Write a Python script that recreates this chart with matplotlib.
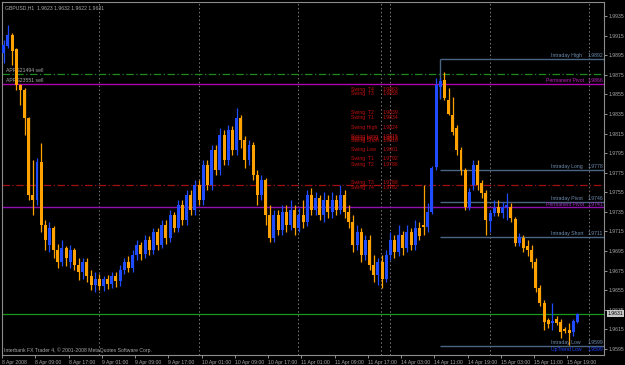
import matplotlib
matplotlib.use('Agg')
import matplotlib.pyplot as plt

plt.rcParams['font.family'] = ['Liberation Sans', 'DejaVu Sans']

# GBPUSD H1 candles, first bar = 8 Apr 2008 01:00
opens = [1.9897, 1.9904, 1.9916, 1.9901, 1.9865, 1.9859, 1.9831, 1.9752, 1.9747, 1.9786,
         1.9722, 1.9701, 1.9719, 1.9696, 1.9684, 1.9698, 1.9684, 1.9696, 1.9681, 1.9674,
         1.9684, 1.9670, 1.9660, 1.9667, 1.9659, 1.9666, 1.9661, 1.9670, 1.9664, 1.9676,
         1.9684, 1.9678, 1.9691, 1.9701, 1.9692, 1.9706, 1.9696, 1.9714, 1.9701, 1.9722,
         1.9708, 1.9732, 1.9719, 1.9742, 1.9727, 1.9752, 1.9737, 1.9762, 1.9747, 1.9783,
         1.9762, 1.9798, 1.9778, 1.9814, 1.9788, 1.9819, 1.9798, 1.9831, 1.9808, 1.9788,
         1.9803, 1.9773, 1.9752, 1.9768, 1.9732, 1.9708, 1.9732, 1.9717, 1.9735, 1.9722,
         1.9737, 1.9719, 1.9732, 1.9725, 1.9752, 1.9737, 1.9749, 1.9732, 1.9747, 1.9735,
         1.9747, 1.9737, 1.9752, 1.9735, 1.9725, 1.9701, 1.9714, 1.9691, 1.9706, 1.9681,
         1.9671, 1.9684, 1.9667, 1.9691, 1.9706, 1.9694, 1.9711, 1.9698, 1.9714, 1.9701,
         1.9719, 1.9722, 1.9720, 1.9735, 1.9781, 1.9863, 1.9870, 1.9849, 1.9834, 1.9821,
         1.9798, 1.9778, 1.9740, 1.9762, 1.9783, 1.9765, 1.9754, 1.9726, 1.9734, 1.9740,
         1.9734, 1.9740, 1.9740, 1.9728, 1.9703, 1.9708, 1.9700, 1.9696, 1.9684, 1.9657,
         1.9642, 1.9625, 1.9622, 1.9626, 1.9623, 1.9615, 1.9614, 1.9612, 1.9623]
highs = [1.9910, 1.9926, 1.9918, 1.9902, 1.9866, 1.9861, 1.9832, 1.9788, 1.9790, 1.9805,
         1.9727, 1.9725, 1.9721, 1.9702, 1.9706, 1.9700, 1.9701, 1.9698, 1.9688, 1.9688,
         1.9688, 1.9676, 1.9674, 1.9672, 1.9670, 1.9671, 1.9674, 1.9674, 1.9681, 1.9688,
         1.9690, 1.9696, 1.9706, 1.9704, 1.9711, 1.9710, 1.9719, 1.9719, 1.9727, 1.9727,
         1.9737, 1.9735, 1.9747, 1.9747, 1.9757, 1.9757, 1.9768, 1.9768, 1.9788, 1.9788,
         1.9803, 1.9803, 1.9821, 1.9819, 1.9824, 1.9823, 1.9841, 1.9834, 1.9813, 1.9808,
         1.9806, 1.9778, 1.9773, 1.9770, 1.9742, 1.9737, 1.9737, 1.9742, 1.9742, 1.9747,
         1.9742, 1.9739, 1.9747, 1.9757, 1.9759, 1.9755, 1.9752, 1.9755, 1.9752, 1.9755,
         1.9752, 1.9762, 1.9757, 1.9742, 1.9732, 1.9722, 1.9719, 1.9711, 1.9711, 1.9691,
         1.9688, 1.9691, 1.9696, 1.9714, 1.9711, 1.9722, 1.9716, 1.9722, 1.9719, 1.9727,
         1.9725, 1.9762, 1.9744, 1.9782, 1.9872, 1.9872, 1.9878, 1.9861, 1.9852, 1.9824,
         1.9801, 1.9780, 1.9759, 1.9788, 1.9788, 1.9768, 1.9757, 1.9737, 1.9747, 1.9747,
         1.9745, 1.9754, 1.9744, 1.9730, 1.9713, 1.9711, 1.9706, 1.9701, 1.9688, 1.9660,
         1.9645, 1.9627, 1.9642, 1.9629, 1.9626, 1.9617, 1.9622, 1.9626, 1.9632]
lows = [1.9887, 1.9902, 1.9885, 1.9859, 1.9844, 1.9814, 1.9747, 1.9732, 1.9742, 1.9714,
        1.9696, 1.9694, 1.9688, 1.9678, 1.9680, 1.9680, 1.9678, 1.9676, 1.9665, 1.9667,
        1.9663, 1.9655, 1.9653, 1.9655, 1.9654, 1.9656, 1.9657, 1.9658, 1.9659, 1.9672,
        1.9674, 1.9674, 1.9686, 1.9686, 1.9688, 1.9691, 1.9692, 1.9696, 1.9698, 1.9702,
        1.9704, 1.9714, 1.9714, 1.9722, 1.9722, 1.9732, 1.9732, 1.9742, 1.9742, 1.9757,
        1.9757, 1.9773, 1.9773, 1.9783, 1.9783, 1.9793, 1.9793, 1.9800, 1.9780, 1.9783,
        1.9768, 1.9742, 1.9747, 1.9722, 1.9704, 1.9704, 1.9711, 1.9711, 1.9714, 1.9717,
        1.9711, 1.9714, 1.9719, 1.9721, 1.9732, 1.9732, 1.9727, 1.9725, 1.9729, 1.9729,
        1.9732, 1.9733, 1.9729, 1.9719, 1.9694, 1.9696, 1.9684, 1.9686, 1.9676, 1.9663,
        1.9660, 1.9657, 1.9663, 1.9686, 1.9688, 1.9690, 1.9691, 1.9694, 1.9696, 1.9696,
        1.9706, 1.9711, 1.9714, 1.9733, 1.9778, 1.9851, 1.9849, 1.9834, 1.9814, 1.9793,
        1.9773, 1.9737, 1.9737, 1.9757, 1.9757, 1.9749, 1.9711, 1.9714, 1.9731, 1.9731,
        1.9729, 1.9727, 1.9725, 1.9700, 1.9700, 1.9694, 1.9690, 1.9678, 1.9653, 1.9639,
        1.9614, 1.9616, 1.9614, 1.9620, 1.9606, 1.9611, 1.9599, 1.9608, 1.9622]
closes = [1.9905, 1.9916, 1.9899, 1.9865, 1.9859, 1.9831, 1.9752, 1.9747, 1.9786, 1.9722,
          1.9706, 1.9719, 1.9696, 1.9684, 1.9698, 1.9688, 1.9696, 1.9681, 1.9674, 1.9684,
          1.9670, 1.9660, 1.9667, 1.9659, 1.9666, 1.9661, 1.9670, 1.9664, 1.9676, 1.9684,
          1.9678, 1.9691, 1.9701, 1.9692, 1.9706, 1.9696, 1.9714, 1.9701, 1.9722, 1.9708,
          1.9732, 1.9719, 1.9742, 1.9727, 1.9752, 1.9737, 1.9762, 1.9747, 1.9783, 1.9762,
          1.9798, 1.9778, 1.9814, 1.9788, 1.9819, 1.9798, 1.9831, 1.9808, 1.9788, 1.9803,
          1.9773, 1.9752, 1.9768, 1.9732, 1.9708, 1.9732, 1.9717, 1.9735, 1.9722, 1.9737,
          1.9719, 1.9732, 1.9725, 1.9752, 1.9737, 1.9749, 1.9732, 1.9747, 1.9735, 1.9747,
          1.9737, 1.9752, 1.9735, 1.9725, 1.9701, 1.9714, 1.9691, 1.9706, 1.9681, 1.9671,
          1.9684, 1.9667, 1.9691, 1.9706, 1.9694, 1.9711, 1.9698, 1.9714, 1.9701, 1.9719,
          1.9710, 1.9720, 1.9735, 1.9780, 1.9865, 1.9869, 1.9851, 1.9835, 1.9817, 1.9798,
          1.9778, 1.9740, 1.9755, 1.9783, 1.9762, 1.9754, 1.9727, 1.9734, 1.9739, 1.9734,
          1.9740, 1.9742, 1.9729, 1.9703, 1.9709, 1.9698, 1.9696, 1.9684, 1.9657, 1.9642,
          1.9623, 1.9621, 1.9624, 1.9622, 1.9612, 1.9613, 1.9611, 1.9624, 1.9631]

price_ticks = [1.9595, 1.9615, 1.9635, 1.9655, 1.9675, 1.9695, 1.9715, 1.9735, 1.9755,
               1.9775, 1.9795, 1.9815, 1.9835, 1.9855, 1.9875, 1.9895, 1.9915, 1.9935]
time_labels = ['8 Apr 2008', '8 Apr 09:00', '8 Apr 17:00', '9 Apr 01:00', '9 Apr 09:00',
               '9 Apr 17:00', '10 Apr 01:00', '10 Apr 09:00', '10 Apr 17:00', '11 Apr 01:00',
               '11 Apr 09:00', '11 Apr 17:00', '14 Apr 03:00', '14 Apr 11:00', '14 Apr 19:00',
               '15 Apr 03:00', '15 Apr 11:00', '15 Apr 19:00']
time_label_bars = [-0.42, 7.58, 15.58, 23.58, 31.58, 39.58, 47.58, 55.58, 63.58, 71.58,
                   79.58, 87.58, 95.58, 103.58, 111.58, 119.58, 127.58, 135.58]
day_separators = [22.9, 46.9, 70.9, 90.7, 92.9, 116.9, 140.9]

# intraday levels (right side)
intraday_names = ['Intraday High', 'Intraday Long', 'Intraday Pivot', 'Intraday Short', 'Intraday Low']
intraday_levels = [1.9891, 1.9778, 1.9745, 1.9709, 1.9598]
intraday_text = ['1.9892', '1.9778', '1.9746', '1.9711', '1.9599']

upper_pivot = 1.98655
lower_pivot = 1.9740
sell_level = 1.98755
red_level = 1.97625
bid = 1.9631

swing_names = ['Swing  T4', 'Swing  T3', 'Swing  T2', 'Swing  T1', 'Swing High', 'Swing Long',
               'Swing Pivot', 'Swing Short', 'Swing Low', 'Swing  T1', 'Swing  T2', 'Swing  T3',
               'Swing  T4']
swing_levels = [1.9863, 1.9858, 1.9839, 1.9834, 1.9824, 1.9815, 1.9813, 1.9810, 1.9801,
                1.9792, 1.9786, 1.9768, 1.9762]

bull = '#1f4cff'
bear = '#ffa200'
fg = '#a8a8a8'
steel = '#4a6682'
steel_txt = '#6f8db0'
fs = 3.7

fig = plt.figure(figsize=(6.25, 3.65), dpi=100, facecolor='black')
ax = fig.add_axes([2 / 625, 10 / 365, 602 / 625, 353 / 365])
ax.set_facecolor('black')
ax.set_xlim(0.07, 144.4)
ax.set_ylim(1.95889, 1.99493)

for x in day_separators:
    ax.axvline(x, color='#7a7a7a', lw=0.7, ls=(0, (1.5, 2.5)), zorder=1)

# levels
ax.axhline(sell_level, color='#1d8a1d', lw=0.9, ls=(0, (6, 2, 1, 2)), zorder=2)
ax.axhline(upper_pivot, color='#b000b0', lw=1.0, zorder=2)
ax.axhline(red_level, color='#a01010', lw=0.9, ls=(0, (6, 2, 1, 2)), zorder=2)
ax.axhline(lower_pivot, color='#9010b0', lw=1.0, zorder=2)
ax.axhline(bid, color='#1a9a1a', lw=0.9, zorder=2)
for lvl in intraday_levels:
    ax.hlines(lvl, 104.9, 144.4, color=steel, lw=1.0, zorder=2)
ax.vlines(104.9, 1.9850, intraday_levels[0], color=steel, lw=1.0, zorder=2)

# candles
xs = list(range(len(opens)))
cols = [bull if c >= o else bear for o, c in zip(opens, closes)]
ax.vlines(xs, lows, highs, colors=cols, lw=0.9, zorder=3)
bottoms = [min(o, c) for o, c in zip(opens, closes)]
heights = [max(abs(c - o), 0.00008) for o, c in zip(opens, closes)]
ax.bar(xs, heights, bottom=bottoms, width=0.72, color=cols, lw=0, zorder=4)

# text labels
for name, lvl, txt in zip(intraday_names, intraday_levels, intraday_text):
    ax.text(131.7, lvl + 0.00012, name, color=steel_txt, fontsize=fs, va='bottom', ha='left')
    ax.text(144.2, lvl + 0.00012, txt, color=steel_txt, fontsize=fs, va='bottom', ha='right')
ax.text(130.5, upper_pivot + 0.00012, 'Permanent Pivot', color='#c020c0', fontsize=fs, va='bottom')
ax.text(144.2, upper_pivot + 0.00012, '1.9866', color='#c020c0', fontsize=fs, va='bottom', ha='right')
ax.text(130.5, lower_pivot - 0.00005, 'Permanent Pivot', color='#a030c0', fontsize=fs, va='bottom')
ax.text(144.2, lower_pivot - 0.00005, '1.9741', color='#a030c0', fontsize=fs, va='bottom', ha='right')
ax.text(131.7, 1.95915, 'UpTrend Low', color='#2040ff', fontsize=fs, va='bottom')
ax.text(144.2, 1.95915, '1.9599', color='#2040ff', fontsize=fs, va='bottom', ha='right')
ax.text(0.6, sell_level + 0.00012, 'APRS21494 sell', color=fg, fontsize=fs, va='bottom')
ax.text(0.6, upper_pivot + 0.00012, 'APRS23551 sell', color=fg, fontsize=fs, va='bottom')

for name, lvl in zip(swing_names, swing_levels):
    ax.text(83.5, lvl, name, color='#c01010', fontsize=fs, va='top', ha='left')
    ax.text(91.2, lvl, '%.4f' % lvl, color='#c01010', fontsize=fs, va='top', ha='left')

ax.text(0.005, 0.99, 'GBPUSD,H1  1.9623 1.9632 1.9622 1.9631', transform=ax.transAxes,
        color=fg, fontsize=fs, va='top')
ax.text(0.003, 0.006, 'Interbank FX Trader 4, \u00a9 2001-2008 MetaQuotes Software Corp.',
        transform=ax.transAxes, color=fg, fontsize=fs, va='bottom')

# axes styling
for s in ax.spines.values():
    s.set_color('#8c8c8c')
    s.set_linewidth(0.8)
ax.yaxis.tick_right()
ax.set_yticks(price_ticks)
ax.set_yticklabels(['%.4f' % p for p in price_ticks])
ax.set_xticks(time_label_bars)
ax.set_xticklabels(time_labels, ha='left')
ax.tick_params(colors=fg, labelsize=fs, length=2, width=0.6, pad=1.5)

bbox = dict(boxstyle='square,pad=0.15', fc='#c8c8c8', ec='none')
ax.text(1.006, (bid - 1.95889) / (1.99493 - 1.95889), '1.9631', transform=ax.transAxes,
        fontsize=fs, color='black', va='center', ha='left', bbox=bbox)

fig.savefig('out.png', dpi=100, facecolor='black')
